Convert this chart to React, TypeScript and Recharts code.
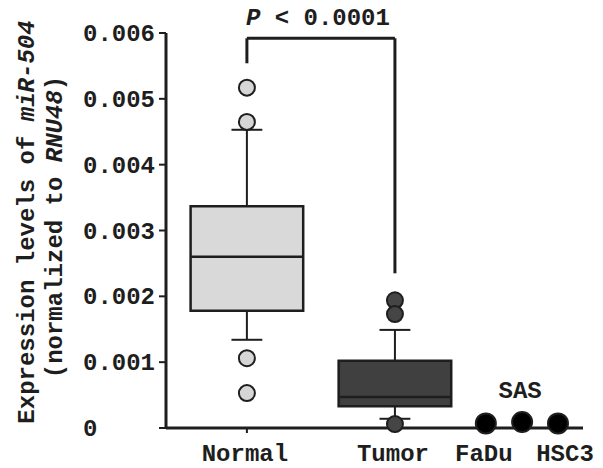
// Box plot of miR-504 expression: Normal vs Tumor, plus three cell lines
import { ComposedChart, XAxis, YAxis, Scatter, ReferenceArea, ReferenceLine } from 'recharts';

const groups = ['Normal', 'Tumor'];
const groupX = [19.4, 54.9];
const q1 = [0.00178, 0.00033];
const median = [0.0026, 0.00047];
const q3 = [0.00337, 0.00102];
const whiskerLow = [0.00134, 0.00014];
const whiskerHigh = [0.00453, 0.00149];
const normalOutliers = [0.00517, 0.00465, 0.00106, 0.00053];
const tumorOutliers = [0.00194, 0.00173, 0.00006];
const cellLines = ['FaDu', 'SAS', 'HSC3'];
const cellX = [76.7, 85.4, 94.0];
const cellValues = [0.00007, 0.00009, 0.00007];
const yTicks = [0, 0.001, 0.002, 0.003, 0.004, 0.005, 0.006];
const pValue = 'P < 0.0001';
const bracketLow = [0.00554, 0.00235];
const bracketTop = 0.00592;

const FONT = '"Liberation Mono", "DejaVu Sans Mono", monospace';
const INK = '#1e1e1e';
const boxFill = ['#d9d9d9', '#404040'];
const BOX_HALF = 13.5;
const CAP_HALF = 3.7;
const FS = 24;

const tickNames = [...groups, ...cellLines];
const tickXs = [...groupX, ...cellX];

const normalPts = normalOutliers.map((y) => ({ x: groupX[0], y }));
const tumorPts = tumorOutliers.map((y) => ({ x: groupX[1], y }));
const cellPts = cellValues.map((y, i) => ({ x: cellX[i], y }));

function XTick({ x, y, payload }: any) {
  const name = tickNames[tickXs.indexOf(payload.value)];
  const above = name === 'SAS';
  const dx = name === 'HSC3' ? 7 : -2;
  return (
    <text
      x={x + dx}
      y={above ? y - 35 : y + 28}
      textAnchor="middle"
      fontFamily={FONT}
      fontWeight="bold"
      fontSize={FS}
      fill={INK}
    >
      {name}
    </text>
  );
}

function YTick({ x, y, payload }: any) {
  const zero = payload.value === 0;
  return (
    <text
      x={zero ? 83 : x}
      y={y}
      dy={8}
      textAnchor={zero ? 'start' : 'end'}
      fontFamily={FONT}
      fontWeight="bold"
      fontSize={FS}
      fill={INK}
    >
      {zero ? '0' : payload.value.toFixed(3)}
    </text>
  );
}

function YTitle() {
  return (
    <g fontFamily={FONT} fontWeight="bold" fontSize={FS} fill={INK}>
      <text x={34} y={222} textAnchor="middle" transform="rotate(-90, 34, 222)">
        Expression levels of <tspan fontStyle="italic">miR-504</tspan>
      </text>
      <text x={62} y={227} textAnchor="middle" transform="rotate(-90, 62, 227)">
        (normalized to <tspan fontStyle="italic">RNU48</tspan>)
      </text>
    </g>
  );
}

function PLabel({ viewBox }: any) {
  const cx = viewBox.x + viewBox.width / 2 - 3;
  return (
    <text
      x={cx}
      y={viewBox.y - 13}
      textAnchor="middle"
      fontFamily={FONT}
      fontWeight="bold"
      fontSize={FS}
      fill={INK}
    >
      <tspan fontStyle="italic">P</tspan>
      {pValue.slice(1)}
    </text>
  );
}

const dot = (fill: string, r: number) => (props: any) =>
  <circle cx={props.cx} cy={props.cy} r={r} fill={fill} stroke={INK} strokeWidth={2} />;

const seg = (key: string, x1: number, y1: number, x2: number, y2: number, w: number, label?: any) => (
  <ReferenceLine
    key={key}
    segment={[{ x: x1, y: y1 }, { x: x2, y: y2 }]}
    stroke={INK}
    strokeWidth={w}
    ifOverflow="visible"
    label={label}
  />
);

export default function App() {
  return (
    <div style={{ position: 'absolute', left: 0, top: 0, background: '#fff' }}>
      <ComposedChart width={603} height={468} margin={{ top: 33, right: 20, bottom: 0, left: 0 }}>
        <XAxis
          type="number"
          dataKey="x"
          domain={[0, 100]}
          ticks={tickXs}
          interval={0}
          height={40}
          tick={<XTick />}
          tickSize={5}
          tickMargin={0}
          axisLine={{ stroke: INK, strokeWidth: 3 }}
          tickLine={{ stroke: INK, strokeWidth: 2 }}
        />
        <YAxis
          type="number"
          dataKey="y"
          domain={[0, 0.006]}
          ticks={yTicks}
          width={166}
          tickSize={7}
          tickMargin={4}
          tick={<YTick />}
          axisLine={{ stroke: INK, strokeWidth: 3 }}
          tickLine={{ stroke: INK, strokeWidth: 2 }}
          label={<YTitle />}
        />
        {groups.map((g, i) => seg(g + '-wl', groupX[i], whiskerLow[i], groupX[i], q1[i], 2))}
        {groups.map((g, i) => seg(g + '-wh', groupX[i], q3[i], groupX[i], whiskerHigh[i], 2))}
        {groups.map((g, i) => (
          <ReferenceArea
            key={g + '-box'}
            x1={groupX[i] - BOX_HALF}
            x2={groupX[i] + BOX_HALF}
            y1={q1[i]}
            y2={q3[i]}
            fill={boxFill[i]}
            fillOpacity={1}
            stroke={INK}
            strokeWidth={2.5}
            ifOverflow="visible"
          />
        ))}
        {groups.map((g, i) =>
          seg(g + '-med', groupX[i] - BOX_HALF, median[i], groupX[i] + BOX_HALF, median[i], 2.5)
        )}
        {groups.map((g, i) =>
          seg(g + '-capl', groupX[i] - CAP_HALF, whiskerLow[i], groupX[i] + CAP_HALF, whiskerLow[i], 2)
        )}
        {groups.map((g, i) =>
          seg(g + '-caph', groupX[i] - CAP_HALF, whiskerHigh[i], groupX[i] + CAP_HALF, whiskerHigh[i], 2)
        )}
        {seg('br-l', groupX[0], bracketLow[0], groupX[0], bracketTop, 3)}
        {seg('br-t', groupX[0], bracketTop, groupX[1], bracketTop, 3, <PLabel />)}
        {seg('br-r', groupX[1], bracketTop, groupX[1], bracketLow[1], 3)}
        <Scatter data={normalPts} shape={dot('#d6d6d6', 8)} isAnimationActive={false} />
        <Scatter data={tumorPts} shape={dot('#454545', 8)} isAnimationActive={false} />
        <Scatter data={cellPts} shape={dot('#000', 10)} isAnimationActive={false} />
      </ComposedChart>
    </div>
  );
}
